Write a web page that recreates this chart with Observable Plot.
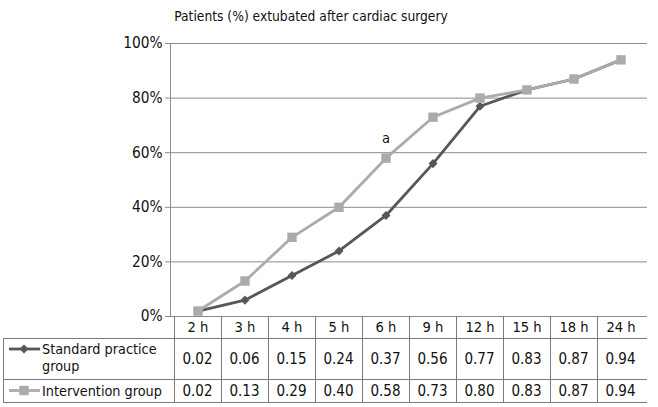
<!DOCTYPE html>
<html><head><meta charset="utf-8">
<script src="https://cdn.jsdelivr.net/npm/d3@7"></script>
<script src="https://cdn.jsdelivr.net/npm/@observablehq/plot@0.6"></script>
<style>
html,body{margin:0;padding:0;background:#fff;}
svg{display:block;}
</style></head><body><div id="chart"></div>
<script>
// ---- data ----
const chartTitle = "Patients (%) extubated after cardiac surgery";
const hours = ["2 h","3 h","4 h","5 h","6 h","9 h","12 h","15 h","18 h","24 h"];
const standard = [0.02,0.06,0.15,0.24,0.37,0.56,0.77,0.83,0.87,0.94];
const intervention = [0.02,0.13,0.29,0.40,0.58,0.73,0.80,0.83,0.87,0.94];
const standardLabel = ["Standard practice", "group"];
const interventionLabel = ["Intervention group"];
const yTicks = [0,0.2,0.4,0.6,0.8,1];
const noteHour = "6 h";
const noteText = "a";

// ---- styles ----
const FONT = "'DejaVu Sans Condensed', 'DejaVu Sans', Verdana, sans-serif";
const C_STD = "#575757", C_INT = "#ababab", C_GRID = "#8a8a8a", C_TABLE = "#7a7a7a", C_TEXT = "#111";
const diamond = {draw(ctx, size){ const h = Math.sqrt(size/2); ctx.moveTo(0,-h); ctx.lineTo(h,0); ctx.lineTo(0,h); ctx.lineTo(-h,0); ctx.closePath(); }};
const square = {draw(ctx, size){ const h = Math.sqrt(size)/2; ctx.rect(-h,-h,2*h,2*h); }};

const stdData = hours.map((h,i)=>({hour:h, value:standard[i]}));
const intData = hours.map((h,i)=>({hour:h, value:intervention[i]}));
const noteData = [{hour: noteHour, value: intervention[hours.indexOf(noteHour)], text: noteText}];

const chart = Plot.plot({
  width: 658, height: 407,
  marginLeft: 170, marginRight: 11, marginTop: 43, marginBottom: 91,
  style: {fontFamily: FONT, fontSize: "13.5px", color: C_TEXT, background: "#fff"},
  x: {type: "band", domain: hours, padding: 0},
  y: {domain: [0,1]},
  marks: [
    Plot.gridY(yTicks, {stroke: C_GRID, strokeOpacity: 1}),
    Plot.axisY(yTicks, {tickSize: 5, tickPadding: 3, tickFormat: d3.format(".0%"), stroke: C_GRID, fontSize: 15.3, label: null}),
    Plot.frame({anchor: "left", stroke: C_GRID}),
    Plot.axisX(hours, {tickSize: 0, tickPadding: 5, fontSize: 14.6, label: null}),
    Plot.line(stdData, {x: "hour", y: "value", stroke: C_STD, strokeWidth: 2.8}),
    Plot.dot(stdData, {x: "hour", y: "value", symbol: diamond, r: 3.6, fill: C_STD, stroke: "none"}),
    Plot.line(intData, {x: "hour", y: "value", stroke: C_INT, strokeWidth: 2.8}),
    Plot.dot(intData, {x: "hour", y: "value", symbol: square, r: 5.3, fill: C_INT, stroke: "none"}),
    Plot.text(noteData, {x: "hour", y: "value", text: "text", dy: -20, fontSize: 14.5, fill: C_TEXT})
  ]
});
document.getElementById("chart").appendChild(chart);

// ---- title and data table, positioned with the plot's own scales ----
const svg = d3.select(chart);
const xs = chart.scale("x");
const ys = chart.scale("y");
const bw = xs.bandwidth;
const xEnd = xs.range[1];
const yTop = ys.apply(0);
const tableLeft = 3;
const hHeader = 22, hRow1 = 41, hRow2 = 23;
const r1 = yTop + hHeader, r2 = r1 + hRow1, r3 = r2 + hRow2;

svg.append("text").attr("x", 311).attr("y", 16).attr("dy", "0.35em")
  .attr("text-anchor", "middle").attr("font-size", 13.7).attr("fill", C_TEXT).text(chartTitle);

const g = svg.append("g").attr("stroke", C_TABLE).attr("stroke-width", 1).attr("shape-rendering", "crispEdges");
hours.forEach(h => {
  const x = Math.round(xs.apply(h)) + 0.5;
  g.append("line").attr("x1", x).attr("x2", x).attr("y1", yTop).attr("y2", r3);
});
g.append("line").attr("x1", tableLeft + 0.5).attr("x2", tableLeft + 0.5).attr("y1", r1).attr("y2", r3);
[r1, r2, r3].forEach(y => {
  g.append("line").attr("x1", tableLeft).attr("x2", xEnd).attr("y1", Math.round(y) + 0.5).attr("y2", Math.round(y) + 0.5);
});

const t = svg.append("g").attr("font-size", 15).attr("fill", C_TEXT).attr("text-anchor", "middle");
hours.forEach((h, i) => {
  const cx = xs.apply(h) + bw / 2;
  t.append("text").attr("x", cx).attr("y", (r1 + r2) / 2).attr("dy", "0.35em").text(standard[i].toFixed(2));
  t.append("text").attr("x", cx).attr("y", (r2 + r3) / 2).attr("dy", "0.35em").text(intervention[i].toFixed(2));
});

// legend keys
const legY1 = r1 + 11, legY2 = (r2 + r3) / 2;
const lg = svg.append("g");
lg.append("line").attr("x1", 9).attr("x2", 40).attr("y1", legY1).attr("y2", legY1).attr("stroke", C_STD).attr("stroke-width", 2.8);
lg.append("path").attr("d", d3.symbol(diamond, 40)()).attr("transform", `translate(24,${legY1})`).attr("fill", C_STD);
lg.append("line").attr("x1", 9).attr("x2", 40).attr("y1", legY2).attr("y2", legY2).attr("stroke", C_INT).attr("stroke-width", 2.8);
lg.append("path").attr("d", d3.symbol(square, 88)()).attr("transform", `translate(24,${legY2})`).attr("fill", C_INT);
const lt = svg.append("g").attr("font-size", 14.3).attr("fill", C_TEXT).attr("text-anchor", "start");
lt.append("text").attr("x", 42).attr("y", legY1).attr("dy", "0.35em").text(standardLabel[0]);
lt.append("text").attr("x", 42).attr("y", legY1 + 17).attr("dy", "0.35em").text(standardLabel[1]);
lt.append("text").attr("x", 42).attr("y", legY2).attr("dy", "0.35em").text(interventionLabel[0]);
</script></body></html>
